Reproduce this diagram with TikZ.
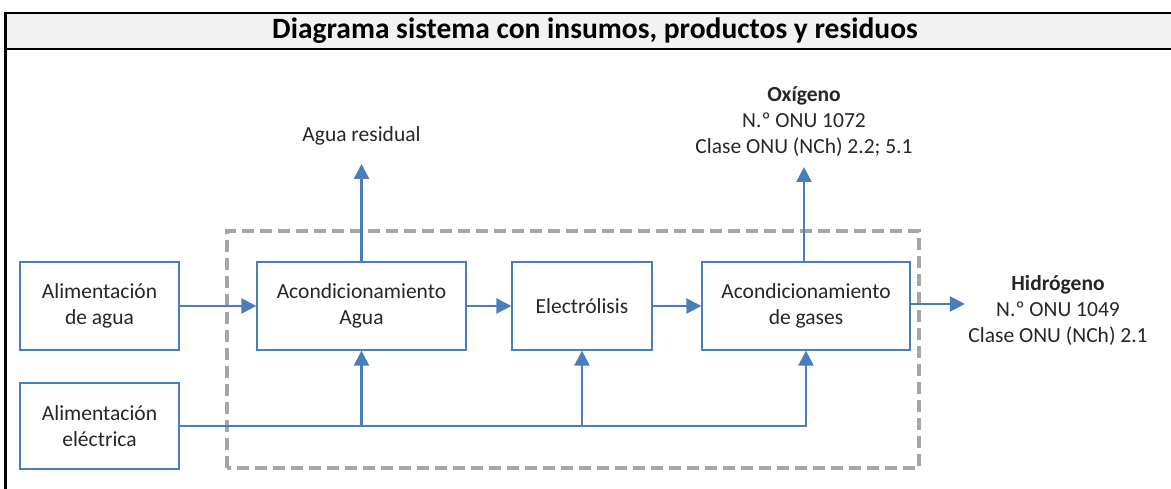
\documentclass[tikz,border=0pt]{standalone}
\usepackage{fontspec}
\setmainfont{Carlito}
\usepackage{xcolor}
\usetikzlibrary{arrows.meta,positioning}
\definecolor{azulLinea}{HTML}{4A7EBB}
\definecolor{grisBorde}{HTML}{A6A6A6}
\definecolor{grisTitulo}{HTML}{F2F2F2}
\definecolor{textoOsc}{HTML}{262626}

\begin{document}
\begin{tikzpicture}[x=1pt,y=1pt,
    caja/.style={draw=azulLinea,line width=1.3pt,minimum height=88pt,align=center,
      text=textoOsc,font=\fontsize{21.5}{26}\selectfont},
    rotulo/.style={align=center,text=textoOsc,font=\fontsize{21.5}{26}\selectfont},
    flecha/.style={draw=azulLinea,line width=2.4pt,-{Triangle[length=15pt,width=15pt]}},
    linea/.style={draw=azulLinea,line width=2.4pt}]
  \useasboundingbox (0,0) rectangle (1171,489);
  % marco y titulo
  \fill[grisTitulo] (5.5,440) rectangle (1180,476);
  \draw[line width=2.6pt] (5.5,-5) -- (5.5,476) -- (1180,476);
  \draw[line width=2.6pt] (5.5,440) -- (1180,440);
  \node[font=\fontsize{29.5}{34}\selectfont\bfseries] (titulo) at (595,458) {Diagrama sistema con insumos, productos y residuos};
  % limite del sistema
  \draw[grisBorde,line width=4.6pt,dash pattern=on 12pt off 6pt] (227,21) rectangle (919,258);
  % bloques
  \node[caja,minimum width=159pt] (alimAgua) at (99.5,183) {Alimentación\\de agua};
  \node[caja,minimum width=159pt,minimum height=86pt] (alimElec) at (99.5,63) {Alimentación\\eléctrica};
  \node[caja,minimum width=209pt] (acondAgua) at (361.5,183) {Acondicionamiento\\Agua};
  \node[caja,minimum width=140pt] (electro) at (582,183) {Electrólisis};
  \node[caja,minimum width=208pt] (acondGases) at (806,183) {Acondicionamiento\\de gases};
  % salidas
  \node[rotulo] (resid) at (361.5,353) {Agua residual};
  \node[rotulo] (oxig) at (804,367) {\textbf{Oxígeno}\\N.º ONU 1072\\Clase ONU (NCh) 2.2; 5.1};
  \node[rotulo] (hidro) at (1058,179) {\textbf{Hidrógeno}\\N.º ONU 1049\\Clase ONU (NCh) 2.1};
  \coordinate (residPta) at (361.5,325);
  \coordinate (oxigPta) at (804,322);
  % flujos
  \draw[flecha] (alimAgua) -- (acondAgua);
  \draw[flecha] (acondAgua) -- (electro);
  \draw[flecha] (electro) -- (acondGases);
  \draw[flecha] ([yshift=2pt]acondGases.east) -- ([yshift=2pt]acondGases.east -| hidro.west);
  \draw[flecha] (acondAgua.north) -- (residPta);
  \draw[flecha] (acondGases.north -| oxigPta) -- (oxigPta);
  % alimentacion electrica
  \draw[flecha] (alimElec.east) -| (acondGases.south);
  \draw[flecha] (acondAgua.south |- alimElec.east) -- (acondAgua.south);
  \draw[flecha] (electro.south |- alimElec.east) -- (electro.south);
\end{tikzpicture}
\end{document}
